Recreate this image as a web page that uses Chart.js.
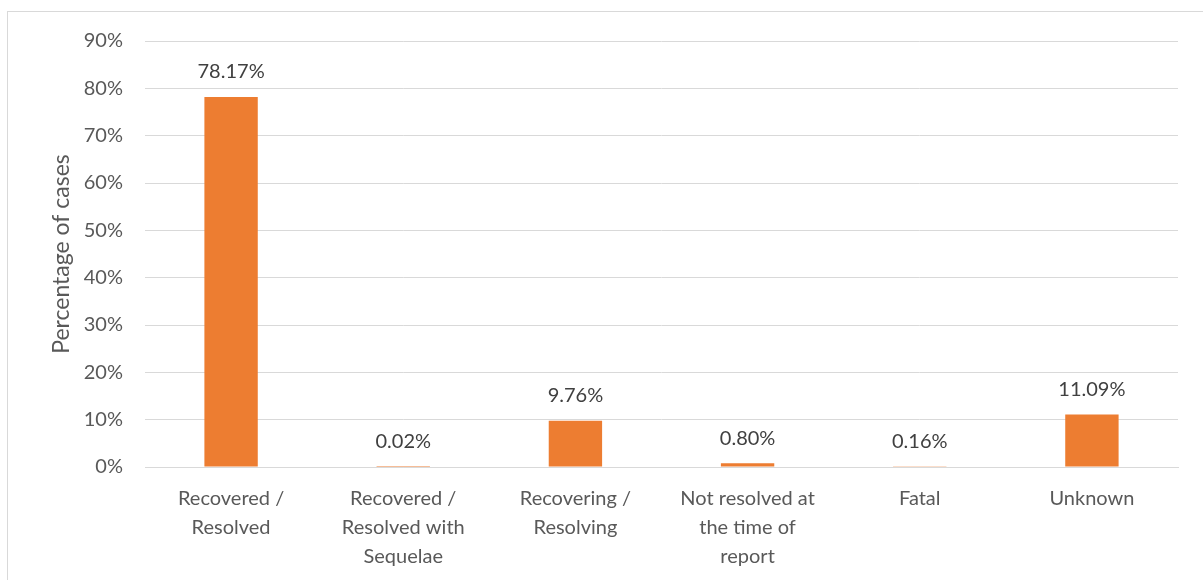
<!DOCTYPE html>
<html>
<head>
<meta charset="utf-8">
<script src="https://cdn.jsdelivr.net/npm/chart.js@4/dist/chart.umd.min.js"></script>
<style>
    html, body { margin: 0; padding: 0; background: #fff; }
    #wrap { position: relative; width: 1203px; height: 580px; overflow: hidden; }
    #frame {
        position: absolute; left: 7px; top: 11px; width: 1210px; height: 600px;
        border: 1px solid #d9d9d9; box-sizing: border-box;
    }
    #chart { position: absolute; left: 0; top: 0; }
</style>
</head>
<body>
<div id="wrap">
    <div id="frame"></div>
    <canvas id="chart" width="1203" height="580"></canvas>
</div>
<script>
    // Chart data
    const categories = [
        ['Recovered /', 'Resolved'],
        ['Recovered /', 'Resolved with', 'Sequelae'],
        ['Recovering /', 'Resolving'],
        ['Not resolved at', 'the time of', 'report'],
        ['Fatal'],
        ['Unknown']
    ];
    const percentValues = [78.17, 0.02, 9.76, 0.80, 0.16, 11.09];
    const yTicks = [0, 10, 20, 30, 40, 50, 60, 70, 80, 90];

    const FONT = 'Lato, "Open Sans", sans-serif';

    // Draw value labels above each bar
    const valueLabels = {
        id: 'valueLabels',
        afterDatasetsDraw: function(chart) {
            const ctx = chart.ctx;
            const meta = chart.getDatasetMeta(0);
            ctx.save();
            ctx.font = '20px ' + FONT;
            ctx.fillStyle = '#404040';
            ctx.textAlign = 'center';
            ctx.textBaseline = 'middle';
            meta.data.forEach(function(bar, i) {
                ctx.fillText(percentValues[i].toFixed(2) + '%', bar.x, bar.y - 25);
            });
            ctx.restore();
        }
    };

    const ctx = document.getElementById('chart').getContext('2d');
    new Chart(ctx, {
        type: 'bar',
        data: {
            labels: categories,
            datasets: [{
                data: percentValues,
                backgroundColor: '#ED7D31',
                borderWidth: 0,
                categoryPercentage: 1,
                barPercentage: 0.31
            }]
        },
        options: {
            responsive: false,
            animation: false,
            layout: { padding: { top: 41, right: 25, left: 0, bottom: 0 } },
            plugins: {
                legend: { display: false },
                tooltip: { enabled: false }
            },
            scales: {
                x: {
                    grid: { display: false, drawTicks: false },
                    border: { display: true, color: '#d9d9d9', width: 1 },
                    ticks: {
                        autoSkip: false,
                        maxRotation: 0,
                        padding: 17,
                        color: '#595959',
                        font: { family: FONT, size: 20, lineHeight: 1.45 }
                    },
                    afterFit: function(scale) { scale.height = 113; }
                },
                y: {
                    min: yTicks[0],
                    max: yTicks[yTicks.length - 1],
                    afterBuildTicks: function(scale) {
                        scale.ticks = yTicks.map(function(v) { return { value: v }; });
                    },
                    grid: { color: '#d9d9d9', lineWidth: 1, drawTicks: false },
                    border: { display: false },
                    ticks: {
                        padding: 22,
                        color: '#595959',
                        font: { family: FONT, size: 20 },
                        callback: function(v) { return v + '%'; }
                    },
                    title: {
                        display: true,
                        text: 'Percentage of cases',
                        color: '#595959',
                        font: { family: FONT, size: 23 },
                        padding: { top: 48, bottom: 0 }
                    },
                    afterFit: function(scale) { scale.width = 145; }
                }
            }
        },
        plugins: [valueLabels]
    });
</script>
</body>
</html>
